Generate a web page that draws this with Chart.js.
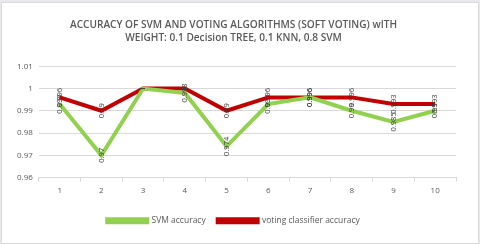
<!DOCTYPE html>
<html>
<head>
<meta charset="utf-8">
<script src="https://cdn.jsdelivr.net/npm/chart.js@4"></script>
<style>
  html, body { margin: 0; padding: 0; background: #e7e9ec; }
  #wrap { position: absolute; left: 1px; top: 2px; width: 476px; height: 240px; background: #fff; border: 1px solid #d9d9d9; }
</style>
</head>
<body>
<div id="wrap"><canvas id="chart" width="476" height="240"></canvas></div>
<script>
"use strict";

const runs = ['1', '2', '3', '4', '5', '6', '7', '8', '9', '10'];
const svmAccuracy = [0.993, 0.97, 1, 0.998, 0.974, 0.993, 0.996, 0.99, 0.985, 0.99];
const votingAccuracy = [0.996, 0.99, 1, 1, 0.99, 0.996, 0.996, 0.996, 0.993, 0.993];
const yTicks = [0.96, 0.97, 0.98, 0.99, 1, 1.01];

const textColor = '#595959';

// Excel style data labels, written vertically over each point
const pointLabels = {
  id: 'pointLabels',
  afterDatasetsDraw(chart) {
    const ctx = chart.ctx;
    ctx.save();
    ctx.font = '7.5px "Open Sans", sans-serif';
    ctx.fillStyle = '#404040';
    ctx.textAlign = 'center';
    ctx.textBaseline = 'middle';
    chart.data.datasets.forEach(function(ds, i) {
      const meta = chart.getDatasetMeta(i);
      meta.data.forEach(function(pt, j) {
        ctx.save();
        ctx.translate(pt.x, pt.y);
        ctx.rotate(-Math.PI / 2);
        ctx.fillText(String(ds.data[j]), 0, 0);
        ctx.restore();
      });
    });
    ctx.restore();
  }
};

new Chart(document.getElementById('chart'), {
  type: 'line',
  data: {
    labels: runs,
    datasets: [
      {
        label: 'SVM accuracy',
        data: svmAccuracy,
        borderColor: '#92d050',
        backgroundColor: '#92d050',
        borderWidth: 4,
        pointRadius: 0,
        tension: 0
      },
      {
        label: 'voting classifier accuracy',
        data: votingAccuracy,
        borderColor: '#c00000',
        backgroundColor: '#c00000',
        borderWidth: 4,
        pointRadius: 0,
        tension: 0
      }
    ]
  },
  options: {
    responsive: false,
    animation: false,
    layout: { padding: { left: 9, right: 22, top: 0, bottom: 8 } },
    plugins: {
      title: {
        display: true,
        text: ['ACCURACY OF SVM AND VOTING ALGORITHMS (SOFT VOTING) wITH',
               'WEIGHT: 0.1 Decision TREE, 0.1 KNN, 0.8 SVM'],
        color: textColor,
        font: { family: '"Open Sans", sans-serif', size: 10.1, weight: '600', lineHeight: 1.25 },
        padding: { top: 16, bottom: 22 }
      },
      legend: {
        position: 'bottom',
        labels: {
          color: textColor,
          font: { family: '"Open Sans", sans-serif', size: 8.5 },
          boxWidth: 40,
          boxHeight: 3,
          padding: 12
        }
      },
      tooltip: { enabled: false }
    },
    scales: {
      x: {
        offset: true,
        afterFit(scale) { scale.height = 27; },
        grid: { offset: true, drawOnChartArea: false, tickLength: 4, color: '#d9d9d9' },
        border: { color: '#d9d9d9' },
        ticks: { color: textColor, font: { family: '"Open Sans", sans-serif', size: 8 }, padding: 4 }
      },
      y: {
        min: yTicks[0],
        max: yTicks[yTicks.length - 1],
        afterBuildTicks(axis) { axis.ticks = yTicks.map(v => ({ value: v })); },
        grid: { color: '#d9d9d9', drawTicks: false },
        border: { display: false },
        ticks: {
          color: textColor,
          font: { family: '"Open Sans", sans-serif', size: 8 },
          padding: 6,
          callback: v => String(parseFloat(v.toFixed(2)))
        }
      }
    }
  },
  plugins: [pointLabels]
});
</script>
</body>
</html>
